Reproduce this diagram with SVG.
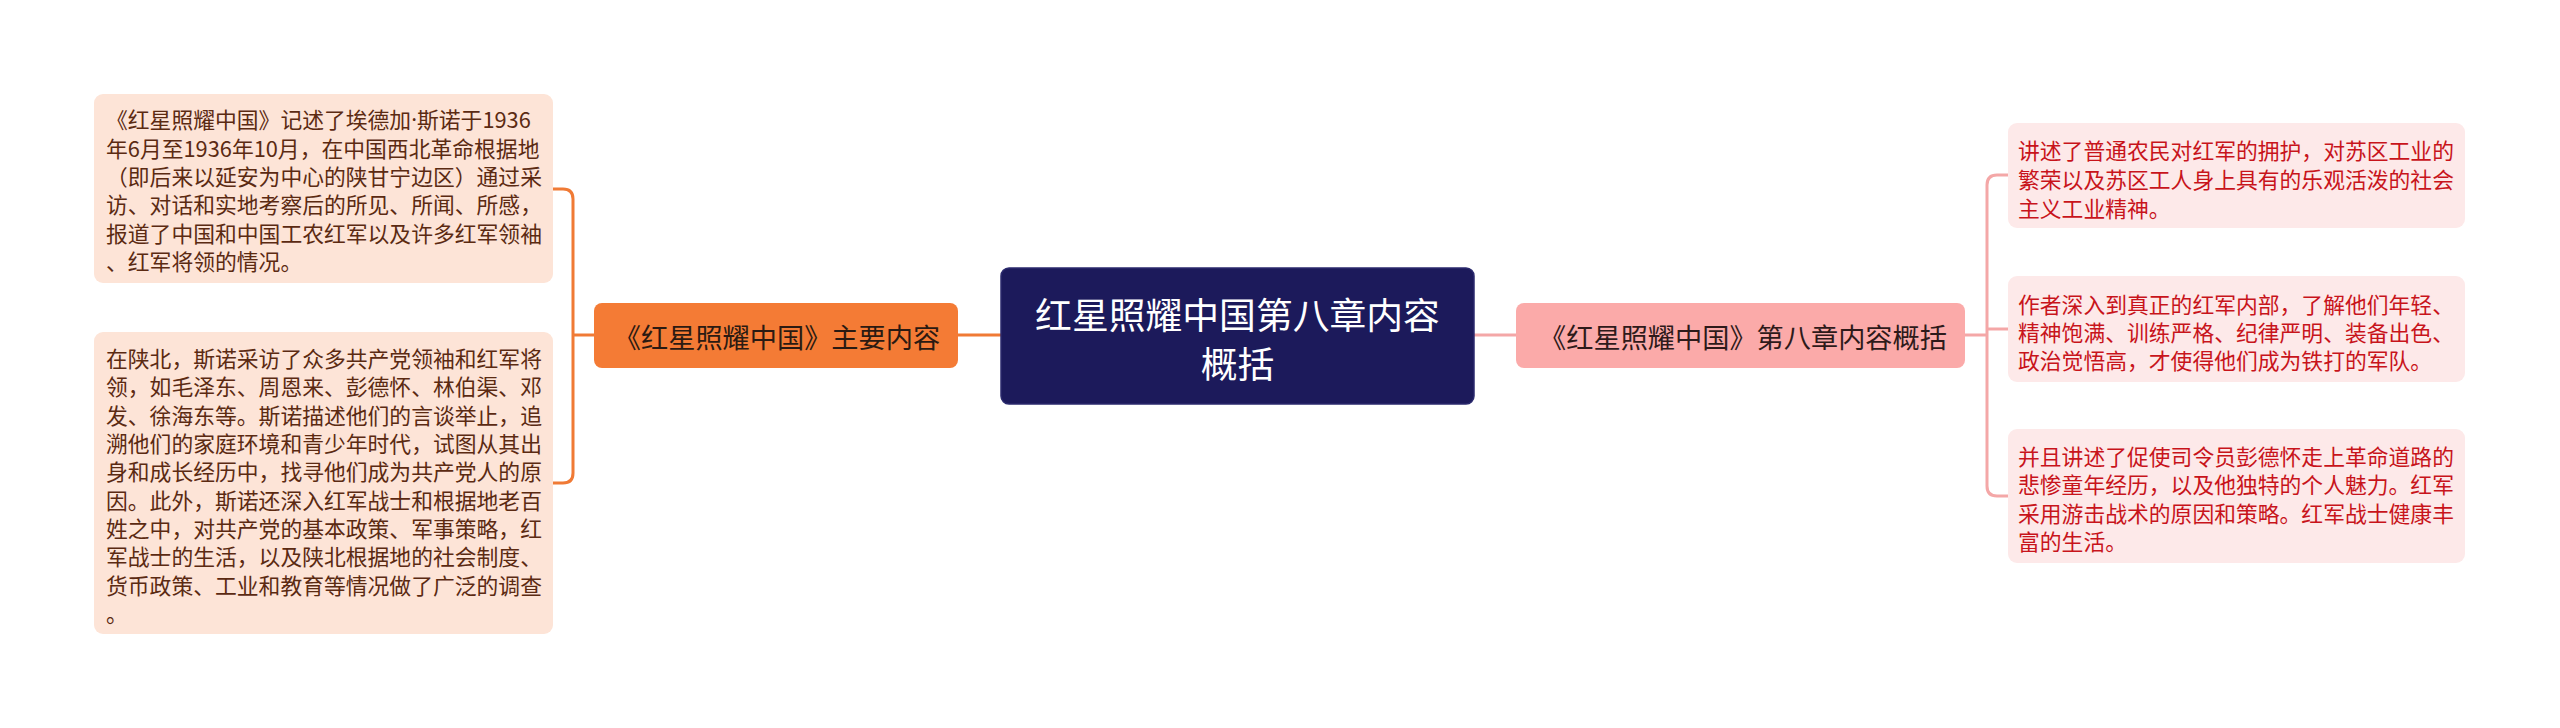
<svg xmlns="http://www.w3.org/2000/svg" width="2560" height="728" viewBox="0 0 2560 728">
<style>
text{font-family:"Noto Sans CJK SC","Noto Sans",sans-serif}
.lt{font-size:21.8px;fill:#5b2a12;dominant-baseline:central}
.rt{font-size:21.8px;fill:#c8141b;dominant-baseline:central}
.lbox{fill:#fde4d7}
.rbox{fill:#fde9e9}
.cl{fill:none;stroke:#f07a35;stroke-width:3}
.cr{fill:none;stroke:#f4a7a7;stroke-width:3}
.dot{font-family:"Noto Sans","DejaVu Sans",sans-serif}
</style>
<rect width="2560" height="728" fill="#ffffff"/>
<g id="connectors">
<path class="cl" d="M553 189 H563 Q573 189 573 199 V473 Q573 483 563 483 H553"/>
<path class="cl" d="M573 335 H594"/>
<path class="cl" d="M958 335 H1001"/>
<path class="cr" d="M1474 335 H1516"/>
<path class="cr" d="M1965 335 H1987"/>
<path class="cr" d="M2008 175 H1997 Q1987 175 1987 185 V486 Q1987 496 1997 496 H2008"/>
<path class="cr" d="M1987 329 H2008"/>
</g>
<g id="center">
<rect x="1001" y="268" width="473" height="136" rx="8" fill="#1c1a5b" stroke="#2b2a6e" stroke-width="1.5"/>
<text x="1237.5" y="313" font-size="36.8" fill="#ffffff" text-anchor="middle" dominant-baseline="central">红星照耀中国第八章内容</text>
<text x="1237.5" y="362" font-size="36.8" fill="#ffffff" text-anchor="middle" dominant-baseline="central">概括</text>
</g>
<g id="left-main">
<rect x="594" y="303" width="364" height="65" rx="8" fill="#f47b35"/>
<text x="777" y="336" font-size="27.2" fill="#2b1a12" text-anchor="middle" dominant-baseline="central">《红星照耀中国》主要内容</text>
</g>
<g id="right-main">
<rect x="1516" y="303" width="449" height="65" rx="8" fill="#fbaaa9"/>
<text x="1743" y="336" font-size="27.2" fill="#2e1a1a" text-anchor="middle" dominant-baseline="central">《红星照耀中国》第八章内容概括</text>
</g>
<g id="left-1">
<rect class="lbox" x="94" y="94" width="459" height="189" rx="9"/>
<text class="lt" x="106" y="118">《红星照耀中国》记述了埃德加<tspan class="dot">·</tspan>斯诺于1936</text>
<text class="lt" x="106" y="147">年6月至1936年10月，在中国西北革命根据地</text>
<text class="lt" x="106" y="175">（即后来以延安为中心的陕甘宁边区）通过采</text>
<text class="lt" x="106" y="203">访、对话和实地考察后的所见、所闻、所感，</text>
<text class="lt" x="106" y="232">报道了中国和中国工农红军以及许多红军领袖</text>
<text class="lt" x="106" y="260">、红军将领的情况。</text>
</g>
<g id="left-2">
<rect class="lbox" x="94" y="332" width="459" height="302" rx="9"/>
<text class="lt" x="106" y="357">在陕北，斯诺采访了众多共产党领袖和红军将</text>
<text class="lt" x="106" y="385">领，如毛泽东、周恩来、彭德怀、林伯渠、邓</text>
<text class="lt" x="106" y="414">发、徐海东等。斯诺描述他们的言谈举止，追</text>
<text class="lt" x="106" y="442">溯他们的家庭环境和青少年时代，试图从其出</text>
<text class="lt" x="106" y="470">身和成长经历中，找寻他们成为共产党人的原</text>
<text class="lt" x="106" y="499">因。此外，斯诺还深入红军战士和根据地老百</text>
<text class="lt" x="106" y="527">姓之中，对共产党的基本政策、军事策略，红</text>
<text class="lt" x="106" y="555">军战士的生活，以及陕北根据地的社会制度、</text>
<text class="lt" x="106" y="584">货币政策、工业和教育等情况做了广泛的调查</text>
<text class="lt" x="106" y="612">。</text>
</g>
<g id="right-1">
<rect class="rbox" x="2008" y="123" width="457" height="105" rx="9"/>
<text class="rt" x="2018" y="149">讲述了普通农民对红军的拥护，对苏区工业的</text>
<text class="rt" x="2018" y="178">繁荣以及苏区工人身上具有的乐观活泼的社会</text>
<text class="rt" x="2018" y="207">主义工业精神。</text>
</g>
<g id="right-2">
<rect class="rbox" x="2008" y="276" width="457" height="106" rx="9"/>
<text class="rt" x="2018" y="303">作者深入到真正的红军内部，了解他们年轻、</text>
<text class="rt" x="2018" y="331">精神饱满、训练严格、纪律严明、装备出色、</text>
<text class="rt" x="2018" y="359">政治觉悟高，才使得他们成为铁打的军队。</text>
</g>
<g id="right-3">
<rect class="rbox" x="2008" y="429" width="457" height="134" rx="9"/>
<text class="rt" x="2018" y="455">并且讲述了促使司令员彭德怀走上革命道路的</text>
<text class="rt" x="2018" y="483">悲惨童年经历，以及他独特的个人魅力。红军</text>
<text class="rt" x="2018" y="512">采用游击战术的原因和策略。红军战士健康丰</text>
<text class="rt" x="2018" y="540">富的生活。</text>
</g>
</svg>
